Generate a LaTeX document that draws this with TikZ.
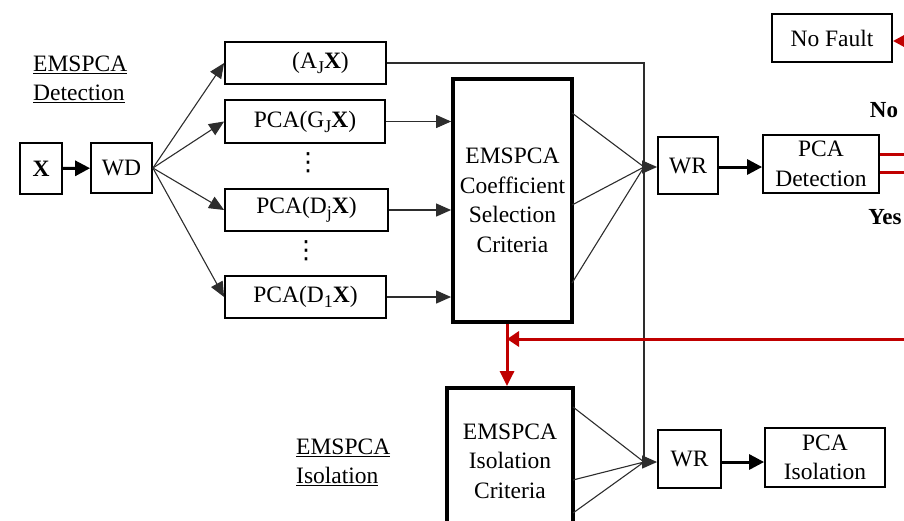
\documentclass[tikz,border=0pt]{standalone}
\usepackage{fontspec}
\setmainfont{Liberation Serif}
\newfontfamily\djv{DejaVu Sans}
\usetikzlibrary{arrows.meta}
\definecolor{fred}{RGB}{192,0,0}
\definecolor{thinc}{RGB}{45,45,45}
\newcommand{\sbs}[1]{\raisebox{-5pt}{\fontsize{18}{18}\selectfont #1}}
\begin{document}
\begin{tikzpicture}[x=1pt,y=-1pt,
 box/.style={draw,line width=1.8pt,inner sep=0pt,align=center,font=\fontsize{23.5}{29.5}\selectfont},
 bigbox/.style={box,line width=3.8pt},
 conn/.style={draw=thinc,line width=1.1pt},
 tip/.style={-{Triangle[length=15pt,width=13pt]}},
 thickarrow/.style={line width=3pt,-{Triangle[length=15pt,width=15pt]}},
 redline/.style={draw=fred,line width=3pt},
 redtip/.style={-{Triangle[length=15pt,width=14pt]}},
 lbl/.style={font=\fontsize{23.5}{29}\selectfont,align=left,inner sep=0pt},
 yn/.style={font=\fontsize{23}{28}\selectfont\bfseries,inner sep=0pt},
 dotsty/.style={inner sep=0pt,font=\djv\fontsize{25}{28}\selectfont}]
\useasboundingbox (0,0) rectangle (904,520);
% nodes
\node[box,minimum width=42pt,minimum height=51pt] (x) at (41,168.5) {\textbf{X}};
\node[box,minimum width=61pt,minimum height=50pt] (wd) at (121.5,168) {WD};
\node[box,minimum width=161pt,minimum height=42pt] (aj) at (305.5,63) {\hspace*{30pt}(A\sbs{J}\textbf{X})};
\node[box,minimum width=160pt,minimum height=43pt] (gj) at (305,121.5) {PCA(G\sbs{J}\textbf{X})};
\node[box,minimum width=163pt,minimum height=42pt] (dj) at (306.5,210) {PCA(D\sbs{j}\textbf{X})};
\node[box,minimum width=161pt,minimum height=42pt] (d1) at (305.5,297) {PCA(D\sbs{1}\textbf{X})};
\node[dotsty] (dots1) at (308,163) {⋮};
\node[dotsty] (dots2) at (306,251) {⋮};
\node[bigbox,minimum width=119pt,minimum height=243pt] (coef) at (512.5,200.5) {EMSPCA\\Coefficient\\Selection\\Criteria};
\node[box,minimum width=60pt,minimum height=57pt] (wr1) at (688,165.5) {WR};
\node[box,minimum width=116pt,minimum height=58pt] (det) at (821,164) {PCA\\Detection};
\node[box,minimum width=120pt,minimum height=48pt] (nf) at (832,38) {No Fault};
\node[bigbox,minimum width=126pt,minimum height=146pt] (iso) at (510,461) {EMSPCA\\Isolation\\Criteria};
\node[box,minimum width=63pt,minimum height=58pt] (wr2) at (689.5,459) {WR};
\node[box,minimum width=120pt,minimum height=59pt] (piso) at (825,457.5) {PCA\\Isolation};
% labels
\node[lbl,anchor=west] (ldet) at (33,79) {\underline{EMSPCA}\\\underline{Detection}};
\node[lbl,anchor=west] (liso) at (296,462) {\underline{EMSPCA}\\\underline{Isolation}};
\node[yn] (no) at (884,110) {No};
\node[yn] (yes) at (885,217) {Yes};
% coordinates
\coordinate (p1) at (644,167);
\coordinate (p2) at (644,462);
\coordinate (c1) at (572,113);
\coordinate (c2) at (572,205);
\coordinate (c3) at (572,283);
\coordinate (i1) at (573,407);
\coordinate (i2) at (573,480);
\coordinate (i3) at (573,513);
\coordinate (r1) at (915,154);
\coordinate (r2) at (915,172);
\coordinate (rnf) at (915,41);
\coordinate (rb) at (915,339);
\coordinate (rv) at (507,339);
% connectors
\draw[thickarrow] (x) -- (wd);
\draw[conn,tip] (wd.east) -- (aj.west);
\draw[conn,tip] (wd.east) -- (gj.west);
\draw[conn,tip] (wd.east) -- (dj.west);
\draw[conn,tip] (wd.east) -- (d1.west);
\draw[conn,tip] (gj.east) -- (gj.east -| coef.west);
\draw[conn,tip] (dj.east) -- (dj.east -| coef.west);
\draw[conn,tip] (d1.east) -- (d1.east -| coef.west);
\draw[conn] (aj.east) -- (aj.east -| p1) -- (p2);
\draw[conn] (c1) -- (p1) (c2) -- (p1) (c3) -- (p1);
\draw[conn,tip] (p1) -- (p1 -| wr1.west);
\draw[conn] (i1) -- (p2) (i2) -- (p2) (i3) -- (p2);
\draw[conn,tip] (p2) -- (p2 -| wr2.west);
\draw[thickarrow] (wr1.east |- p1) -- (p1 -| det.west);
\draw[thickarrow] (wr2.east |- p2) -- (p2 -| piso.west);
% red
\draw[redline] (det.east |- r1) -- (r1);
\draw[redline] (det.east |- r2) -- (r2);
\draw[redline,-{Triangle[length=13pt,width=13pt]}] (rnf) -- (rnf -| nf.east);
\draw[redline,redtip] (coef.south -| rv) -- (iso.north -| rv);
\draw[redline,-{Triangle[length=12pt,width=15pt]}] (rb) -- (rv);
\end{tikzpicture}
\end{document}
